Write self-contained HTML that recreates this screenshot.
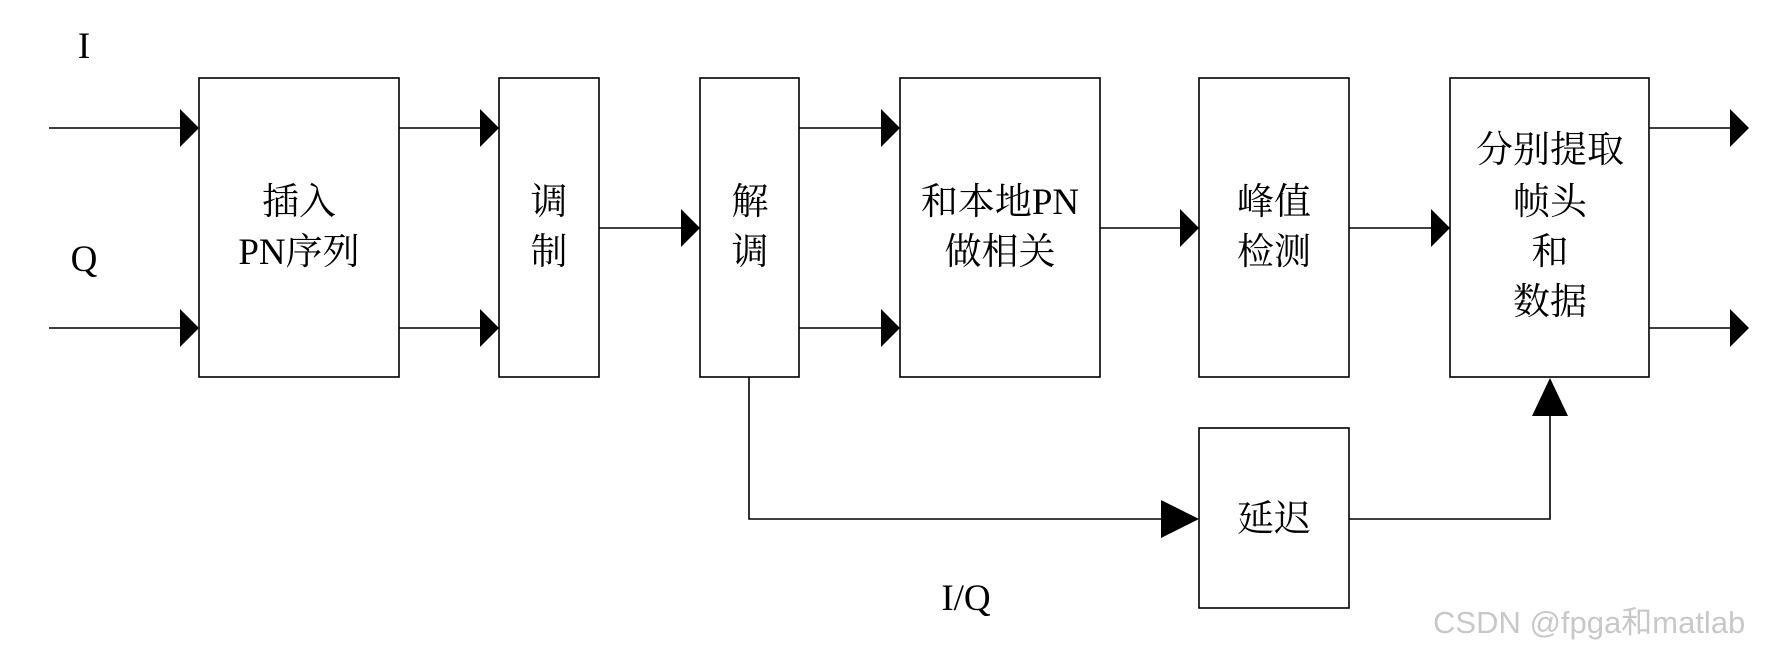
<!DOCTYPE html>
<html><head><meta charset="utf-8"><style>
html,body{margin:0;padding:0;background:#fff}
svg{display:block}
text{font-family:"Liberation Serif","Noto Serif CJK SC",serif;fill:#000}
</style></head><body>
<svg width="1772" height="652" viewBox="0 0 1772 652" xmlns="http://www.w3.org/2000/svg">
<g fill="none" stroke="#000" stroke-width="1.6">
<rect x="199" y="78" width="200" height="299"/>
<rect x="499" y="78" width="100" height="299"/>
<rect x="700" y="78" width="99" height="299"/>
<rect x="900" y="78" width="200" height="299"/>
<rect x="1199" y="78" width="150" height="299"/>
<rect x="1450" y="78" width="199" height="299"/>
<rect x="1199" y="428" width="150" height="180"/>
<path d="M49 128H182M49 328H182M399 128H482M399 328H482M599 228H683M799 128H883M799 328H883M1100 228H1182M1349 228H1433M1649 128H1731M1649 328H1731"/>
<path d="M749 377V519H1162M1349 519H1550V416"/>
</g>
<g fill="#000">
<path d="M180 109L199 128L180 147Z"/><path d="M180 309L199 328L180 347Z"/>
<path d="M480 109L499 128L480 147Z"/><path d="M480 309L499 328L480 347Z"/>
<path d="M681 209L700 228L681 247Z"/>
<path d="M881 109L900 128L881 147Z"/><path d="M881 309L900 328L881 347Z"/>
<path d="M1180 209L1199 228L1180 247Z"/>
<path d="M1431 209L1450 228L1431 247Z"/>
<path d="M1730 109L1749 128L1730 147Z"/><path d="M1730 309L1749 328L1730 347Z"/>
<path d="M1161 500L1199 519L1161 538Z"/>
<path d="M1532 416L1550 378L1568 416Z"/>
</g>
<g font-size="37" text-anchor="middle">
<text x="299" y="214">插入</text><text x="299" y="264">PN序列</text>
<text x="549" y="214">调</text><text x="549" y="264">制</text>
<text x="750" y="214">解</text><text x="750" y="264">调</text>
<text x="1000" y="214">和本地PN</text><text x="1000" y="264">做相关</text>
<text x="1274" y="214">峰值</text><text x="1274" y="264">检测</text>
<text x="1550" y="162">分别提取</text><text x="1550" y="214">帧头</text><text x="1550" y="264">和</text><text x="1550" y="314">数据</text>
<text x="1274" y="531">延迟</text>
<text x="84" y="58">I</text>
<text x="84" y="271">Q</text>
<text x="966" y="610">I/Q</text>
</g>
<text x="1433" y="633" font-size="31" style="font-family:'Liberation Sans','Noto Sans CJK SC',sans-serif;fill:#c8c8c8">CSDN @fpga和matlab</text>
</svg>
</body></html>
